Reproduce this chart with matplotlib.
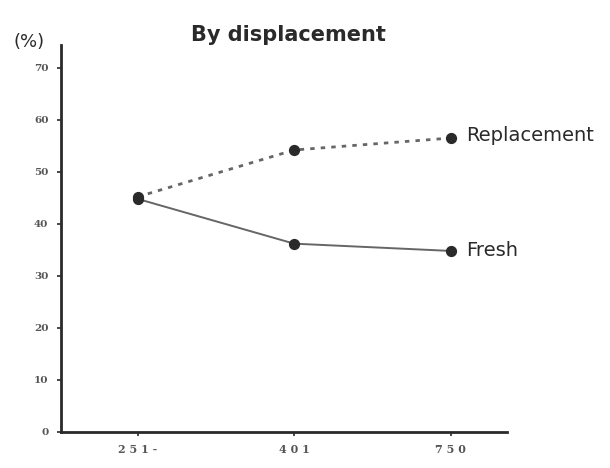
import numpy as np
import matplotlib; matplotlib.use('Agg')
import matplotlib.pyplot as plt

categories = ["2 5 1 -", "4 0 1", "7 5 0"]
replacement = [45.2, 54.2, 56.5]
fresh = [44.8, 36.2, 34.8]
yticks = [0, 10, 20, 30, 40, 50, 60, 70]

INK = "#2a2a2a"
plt.rcParams.update({"font.family": "DejaVu Sans"})

fig = plt.figure(figsize=(6.1, 4.68), dpi=100)
ax = fig.add_axes([0.1, 0.077, 0.731, 0.827])
x = np.arange(len(categories))

ax.plot(x, replacement, color="#666666", lw=2.0, ls=(0, (1.6, 2.2)), zorder=2)
ax.plot(x, fresh, color="#666666", lw=1.4, ls="-", zorder=2)
ax.scatter(x, replacement, s=50, color=INK, zorder=3)
ax.scatter(x, fresh, s=50, color=INK, zorder=3)

ax.annotate("Replacement", (x[-1], replacement[-1]), xytext=(11, 2), textcoords="offset points",
            va="center", ha="left", fontsize=14, color=INK, annotation_clip=False)
ax.annotate("Fresh", (x[-1], fresh[-1]), xytext=(11, 0), textcoords="offset points",
            va="center", ha="left", fontsize=14, color=INK, annotation_clip=False)

ax.set_xlim(-0.49, 2.36)
ax.set_ylim(0, 74.4)
ax.set_xticks(x)
ax.set_xticklabels(categories, family="DejaVu Serif", fontsize=8, weight="bold", color="#555555")
ax.set_yticks(yticks)
ax.set_yticklabels([str(v) for v in yticks], family="DejaVu Serif", fontsize=7.5, weight="bold", color="#555555")
ax.tick_params(axis="both", length=3, width=1.2, color=INK, direction="out", pad=6)

for s in ["top", "right"]:
    ax.spines[s].set_visible(False)
for s in ["left", "bottom"]:
    ax.spines[s].set_linewidth(2)
    ax.spines[s].set_color(INK)

fig.text(0.473, 0.925, "By displacement", ha="center", va="center", fontsize=15, weight="bold", color=INK)
fig.text(0.048, 0.91, "(%)", ha="center", va="center", fontsize=13, color=INK)

plt.savefig("out.png", dpi=100)
